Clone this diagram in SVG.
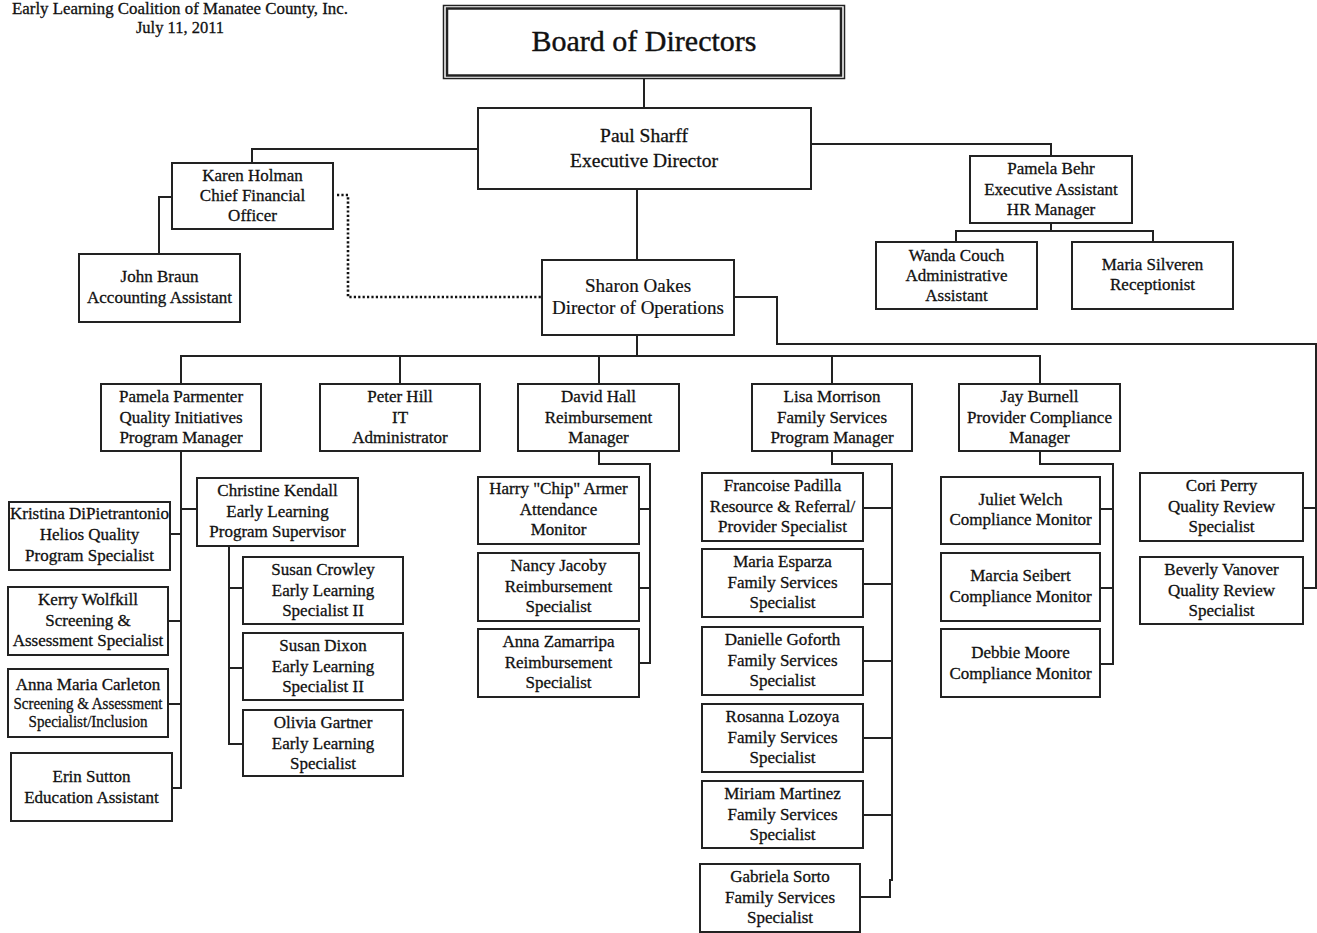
<svg xmlns="http://www.w3.org/2000/svg" width="1317" height="933" viewBox="0 0 1317 933">
<style>
  .bg{fill:#fff}
  .box{fill:#fff;stroke:#222;stroke-width:2}
  .ln{fill:none;stroke:#222;stroke-width:2}
  .dot{fill:none;stroke:#111;stroke-width:2.6;stroke-dasharray:2.2 2.2}
  text{font-family:"Liberation Serif","Times New Roman",serif;font-size:17px;fill:#111;text-anchor:middle;stroke:#111;stroke-width:0.3}
  .big{font-size:30px;stroke-width:0.4}
  .med{font-size:19.5px}
  .ops{font-size:19px;stroke-width:0.2}
  .ttl{font-size:16.5px}
</style>
<rect class="bg" x="0" y="0" width="1317" height="933"/>

<g id="connectors">
  <path class="ln" d="M644 79 V108"/>
  <path class="ln" d="M478 149 H252 V163"/>
  <path class="ln" d="M811 144 H1051 V156"/>
  <path class="ln" d="M1051 223 V231 M956 242 V231 H1153 V242"/>
  <path class="ln" d="M172 197 H159 V254"/>
  <path class="dot" d="M337 195 H348 V297 H542"/>
  <path class="ln" d="M637 189 V260"/>
  <path class="ln" d="M637 335 V356 M181 384 V356 H1040 V384 M400 356 V384 M599 356 V384 M832 356 V384"/>
  <path class="ln" d="M734 297 H777 V344 H1316 V588 H1303 M1316 508 H1303"/>
  <path class="ln" d="M181 451 V788 H172 M181 509 H197 M170 534 H181 M168 621 H181 M168 704 H181"/>
  <path class="ln" d="M229 546 V744 H243 M229 588 H243 M229 668 H243"/>
  <path class="ln" d="M599 451 V464 H650 V663 H639 M639 509 H650 M639 588 H650"/>
  <path class="ln" d="M832 451 V464 H892 V880 H890 V897 H860 M863 508 H892 M863 584 H892 M863 661 H892 M863 738 H892 M863 815 H892"/>
  <path class="ln" d="M1040 451 V464 H1113 V664 H1100 M1100 509 H1113 M1100 588 H1113"/>
</g>

<g id="title">
  <text class="ttl" x="180" y="14" textLength="336" lengthAdjust="spacingAndGlyphs">Early Learning Coalition of Manatee County, Inc.</text>
  <text class="ttl" x="180" y="33">July 11, 2011</text>
</g>

<g id="board">
  <rect x="443.5" y="5.5" width="401" height="73" fill="#fff" stroke="#222" stroke-width="1.5"/>
  <rect x="447" y="8.5" width="394" height="67" fill="none" stroke="#222" stroke-width="2.5"/>
  <text class="big" x="644" y="51">Board of Directors</text>
</g>

<g id="paul">
  <rect class="box" x="478" y="108" width="333" height="81"/>
  <text class="med" x="644" y="142">Paul Sharff</text>
  <text class="med" x="644" y="167">Executive Director</text>
</g>

<g id="karen">
  <rect class="box" x="172" y="163" width="161" height="66"/>
  <text x="252.5" y="181">Karen Holman</text>
  <text x="252.5" y="201">Chief Financial</text>
  <text x="252.5" y="221">Officer</text>
</g>

<g id="john">
  <rect class="box" x="79" y="254" width="161" height="68"/>
  <text x="159.5" y="282">John Braun</text>
  <text x="159.5" y="303">Accounting Assistant</text>
</g>

<g id="behr">
  <rect class="box" x="970" y="156" width="162" height="67"/>
  <text x="1051" y="174">Pamela Behr</text>
  <text x="1051" y="195">Executive Assistant</text>
  <text x="1051" y="215">HR Manager</text>
</g>

<g id="wanda">
  <rect class="box" x="876" y="242" width="161" height="67"/>
  <text x="956.5" y="260.5">Wanda Couch</text>
  <text x="956.5" y="280.5">Administrative</text>
  <text x="956.5" y="300.5">Assistant</text>
</g>

<g id="silveren">
  <rect class="box" x="1072" y="242" width="161" height="67"/>
  <text x="1152.5" y="270">Maria Silveren</text>
  <text x="1152.5" y="290">Receptionist</text>
</g>

<g id="sharon">
  <rect class="box" x="542" y="260" width="192" height="75"/>
  <text class="ops" x="638" y="292">Sharon Oakes</text>
  <text class="ops" x="638" y="314">Director of Operations</text>
</g>

<g id="parmenter">
  <rect class="box" x="101" y="384" width="160" height="67"/>
  <text x="181" y="402">Pamela Parmenter</text>
  <text x="181" y="422.5">Quality Initiatives</text>
  <text x="181" y="443">Program Manager</text>
</g>

<g id="peterhill">
  <rect class="box" x="320" y="384" width="160" height="67"/>
  <text x="400" y="402">Peter Hill</text>
  <text x="400" y="422.5">IT</text>
  <text x="400" y="443">Administrator</text>
</g>

<g id="davidhall">
  <rect class="box" x="518" y="384" width="161" height="67"/>
  <text x="598.5" y="402">David Hall</text>
  <text x="598.5" y="422.5">Reimbursement</text>
  <text x="598.5" y="443">Manager</text>
</g>

<g id="lisa">
  <rect class="box" x="752" y="384" width="160" height="67"/>
  <text x="832" y="402">Lisa Morrison</text>
  <text x="832" y="422.5">Family Services</text>
  <text x="832" y="443">Program Manager</text>
</g>

<g id="jay">
  <rect class="box" x="959" y="384" width="161" height="67"/>
  <text x="1039.5" y="402">Jay Burnell</text>
  <text x="1039.5" y="422.5">Provider Compliance</text>
  <text x="1039.5" y="443">Manager</text>
</g>

<g id="christine">
  <rect class="box" x="197" y="478" width="161" height="68"/>
  <text x="277.5" y="496">Christine Kendall</text>
  <text x="277.5" y="516.5">Early Learning</text>
  <text x="277.5" y="537">Program Supervisor</text>
</g>

<g id="kristina">
  <rect class="box" x="9" y="502" width="161" height="68"/>
  <text x="89.5" y="519">Kristina DiPietrantonio</text>
  <text x="89.5" y="540">Helios Quality</text>
  <text x="89.5" y="560.5">Program Specialist</text>
</g>

<g id="kerry">
  <rect class="box" x="8" y="587" width="160" height="68"/>
  <text x="88" y="605">Kerry Wolfkill</text>
  <text x="88" y="625.5">Screening &amp;</text>
  <text x="88" y="646">Assessment Specialist</text>
</g>

<g id="annamaria">
  <rect class="box" x="8" y="669" width="160" height="68"/>
  <text x="88" y="690">Anna Maria Carleton</text>
  <text x="88" y="709" font-size="16" textLength="149" lengthAdjust="spacingAndGlyphs">Screening &amp; Assessment</text>
  <text x="88" y="727" font-size="16" textLength="119" lengthAdjust="spacingAndGlyphs">Specialist/Inclusion</text>
</g>

<g id="erin">
  <rect class="box" x="11" y="753" width="161" height="68"/>
  <text x="91.5" y="782">Erin Sutton</text>
  <text x="91.5" y="803">Education Assistant</text>
</g>

<g id="crowley">
  <rect class="box" x="243" y="557" width="160" height="67"/>
  <text x="323" y="575">Susan Crowley</text>
  <text x="323" y="595.5">Early Learning</text>
  <text x="323" y="616">Specialist II</text>
</g>

<g id="dixon">
  <rect class="box" x="243" y="633" width="160" height="67"/>
  <text x="323" y="651">Susan Dixon</text>
  <text x="323" y="671.5">Early Learning</text>
  <text x="323" y="692">Specialist II</text>
</g>

<g id="gartner">
  <rect class="box" x="243" y="710" width="160" height="66"/>
  <text x="323" y="728">Olivia Gartner</text>
  <text x="323" y="748.5">Early Learning</text>
  <text x="323" y="769">Specialist</text>
</g>

<g id="harry">
  <rect class="box" x="478" y="477" width="161" height="67"/>
  <text x="558.5" y="494">Harry "Chip" Armer</text>
  <text x="558.5" y="514.5">Attendance</text>
  <text x="558.5" y="535">Monitor</text>
</g>

<g id="nancy">
  <rect class="box" x="478" y="553" width="161" height="68"/>
  <text x="558.5" y="571">Nancy Jacoby</text>
  <text x="558.5" y="591.5">Reimbursement</text>
  <text x="558.5" y="612">Specialist</text>
</g>

<g id="annaz">
  <rect class="box" x="478" y="629" width="161" height="68"/>
  <text x="558.5" y="647">Anna Zamarripa</text>
  <text x="558.5" y="667.5">Reimbursement</text>
  <text x="558.5" y="688">Specialist</text>
</g>

<g id="francoise">
  <rect class="box" x="702" y="473" width="161" height="68"/>
  <text x="782.5" y="491">Francoise Padilla</text>
  <text x="782.5" y="511.5">Resource &amp; Referral/</text>
  <text x="782.5" y="532">Provider Specialist</text>
</g>

<g id="esparza">
  <rect class="box" x="702" y="549" width="161" height="68"/>
  <text x="782.5" y="567">Maria Esparza</text>
  <text x="782.5" y="587.5">Family Services</text>
  <text x="782.5" y="608">Specialist</text>
</g>

<g id="goforth">
  <rect class="box" x="702" y="627" width="161" height="68"/>
  <text x="782.5" y="645">Danielle Goforth</text>
  <text x="782.5" y="665.5">Family Services</text>
  <text x="782.5" y="686">Specialist</text>
</g>

<g id="lozoya">
  <rect class="box" x="702" y="704" width="161" height="68"/>
  <text x="782.5" y="722">Rosanna Lozoya</text>
  <text x="782.5" y="742.5">Family Services</text>
  <text x="782.5" y="763">Specialist</text>
</g>

<g id="martinez">
  <rect class="box" x="702" y="781" width="161" height="67"/>
  <text x="782.5" y="799">Miriam Martinez</text>
  <text x="782.5" y="819.5">Family Services</text>
  <text x="782.5" y="840">Specialist</text>
</g>

<g id="sorto">
  <rect class="box" x="700" y="864" width="160" height="68"/>
  <text x="780" y="882">Gabriela Sorto</text>
  <text x="780" y="902.5">Family Services</text>
  <text x="780" y="923">Specialist</text>
</g>

<g id="juliet">
  <rect class="box" x="941" y="477" width="159" height="67"/>
  <text x="1020.5" y="505">Juliet Welch</text>
  <text x="1020.5" y="525">Compliance Monitor</text>
</g>

<g id="marcia">
  <rect class="box" x="941" y="553" width="159" height="68"/>
  <text x="1020.5" y="581">Marcia Seibert</text>
  <text x="1020.5" y="601.5">Compliance Monitor</text>
</g>

<g id="debbie">
  <rect class="box" x="941" y="629" width="159" height="68"/>
  <text x="1020.5" y="658">Debbie Moore</text>
  <text x="1020.5" y="679">Compliance Monitor</text>
</g>

<g id="cori">
  <rect class="box" x="1140" y="473" width="163" height="68"/>
  <text x="1221.5" y="491">Cori Perry</text>
  <text x="1221.5" y="511.5">Quality Review</text>
  <text x="1221.5" y="532">Specialist</text>
</g>

<g id="beverly">
  <rect class="box" x="1140" y="557" width="163" height="67"/>
  <text x="1221.5" y="575">Beverly Vanover</text>
  <text x="1221.5" y="595.5">Quality Review</text>
  <text x="1221.5" y="616">Specialist</text>
</g>
</svg>
